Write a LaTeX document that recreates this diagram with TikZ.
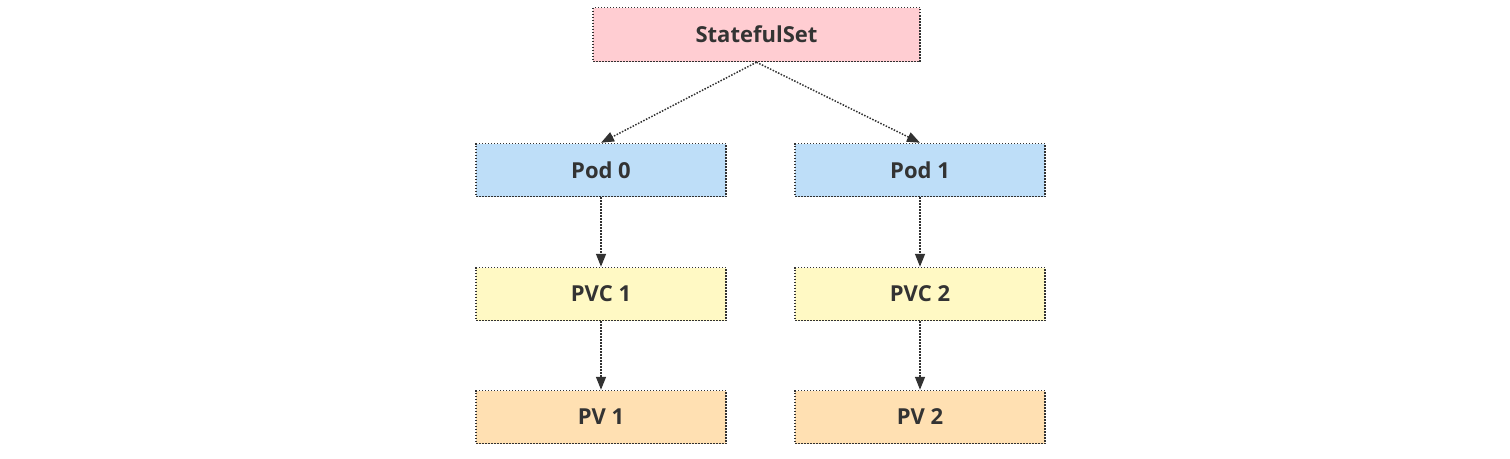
\documentclass[tikz,border=0pt]{standalone}
\usepackage{fontspec}
\setmainfont{Open Sans}
\usetikzlibrary{arrows.meta}
\definecolor{pinkfill}{RGB}{255,205,210}
\definecolor{bluefill}{RGB}{190,222,248}
\definecolor{yellowfill}{RGB}{255,249,196}
\definecolor{orangefill}{RGB}{255,224,178}
\definecolor{edgegray}{RGB}{50,50,50}
\definecolor{txt}{RGB}{51,51,51}
\tikzset{
  box/.style={draw=edgegray, line width=1.5pt, dash pattern=on 1.5pt off 1.5pt,
    minimum width=250pt, minimum height=53pt, inner sep=0pt,
    font=\fontsize{22}{26}\selectfont\bfseries, text=txt},
  conn/.style={draw=edgegray, line width=1.5pt, dash pattern=on 1.5pt off 1.5pt,
    -{Triangle[length=13pt,width=10pt]}, shorten >=0pt}
}
\begin{document}
\begin{tikzpicture}[x=1pt,y=-1pt]
\useasboundingbox (0,0) rectangle (1510,458);
\node[box, fill=pinkfill, minimum width=327pt, minimum height=54pt] (ss) at (756.5,34.5) {StatefulSet};
\node[box, fill=bluefill] (pod0) at (601,170) {Pod 0};
\node[box, fill=bluefill] (pod1) at (920,170) {Pod 1};
\node[box, fill=yellowfill] (pvc1) at (601,294) {PVC 1};
\node[box, fill=yellowfill] (pvc2) at (920,294) {PVC 2};
\node[box, fill=orangefill] (pv1) at (601,417) {PV 1};
\node[box, fill=orangefill] (pv2) at (920,417) {PV 2};
\draw[conn] (ss.south) -- (pod0.north);
\draw[conn] (ss.south) -- (pod1.north);
\draw[conn] (pod0) -- (pvc1);
\draw[conn] (pod1) -- (pvc2);
\draw[conn] (pvc1) -- (pv1);
\draw[conn] (pvc2) -- (pv2);
\end{tikzpicture}
\end{document}
